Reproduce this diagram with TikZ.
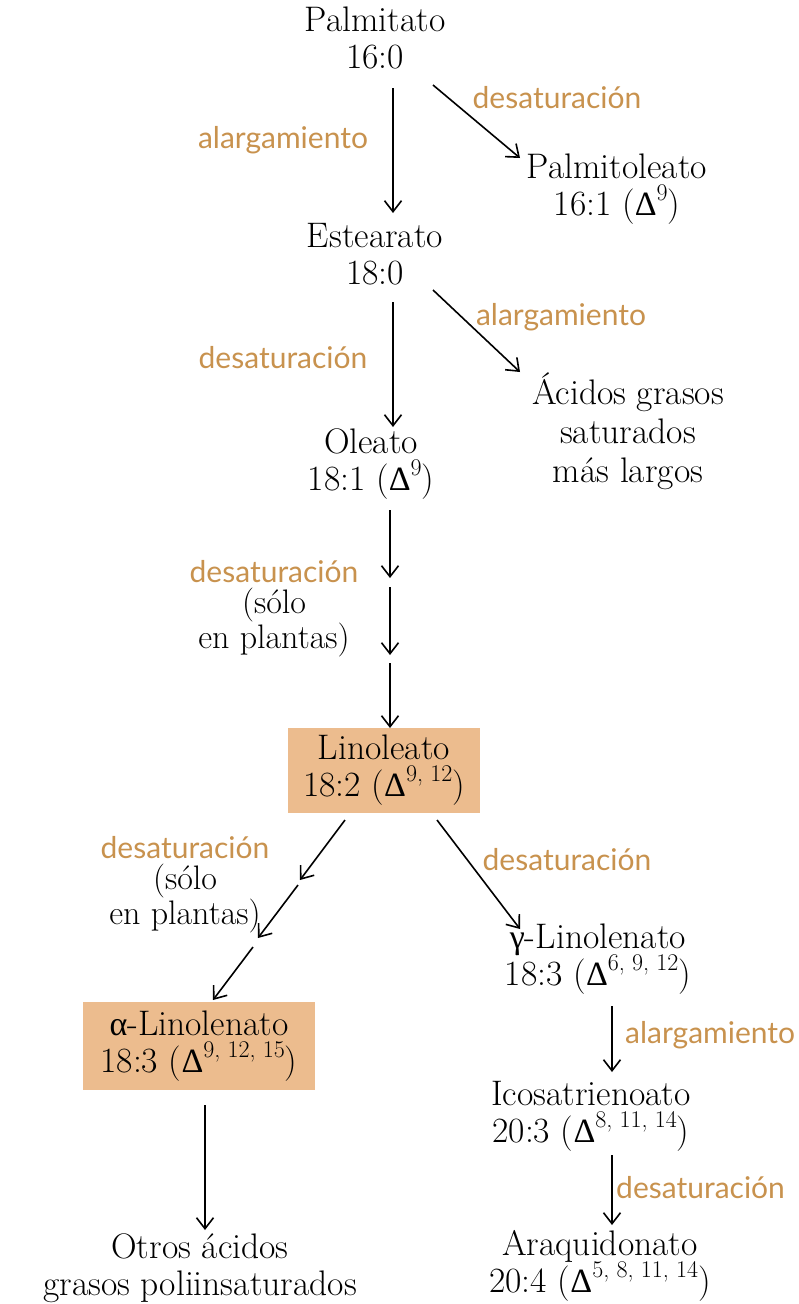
\documentclass[tikz,border=0pt]{standalone}
\usepackage{fontspec}
\newfontfamily\labfont{Lato}
\newfontfamily\grk{Liberation Serif}
\usetikzlibrary{arrows.meta,calc}
\definecolor{labor}{RGB}{200,146,78}
\definecolor{boxfill}{RGB}{236,188,142}
\newcommand\myD{{\grk\fontsize{34}{34}\selectfont Δ}}
\newcommand\mysup[1]{\raisebox{0.42em}[0pt][0pt]{\fontsize{24}{24}\selectfont #1}}
\newcommand\myal{{\grk\fontsize{34}{34}\selectfont α}}
\newcommand\mygam{{\grk\fontsize{34}{34}\selectfont γ}}
\begin{document}
\begin{tikzpicture}[x=1pt,y=-1pt,
  txt/.style={font=\fontsize{35.5}{37}\selectfont, align=center, inner sep=0pt},
  note/.style={font=\fontsize{34}{31}\selectfont, align=center, inner sep=0pt},
  lab/.style={font=\labfont\fontsize{30}{30}\selectfont, text=labor, inner sep=0pt},
  hl/.style={txt, fill=boxfill},
  arr/.style={line width=1.6pt, -{Straight Barb[length=11pt,width=17pt]}}]
\useasboundingbox (0,0) rectangle (798,1304);

% compounds
\node[txt] (palm)   at (375,38)   {Palmitato\\16:0};
\node[txt] (palmo)  at (617,189)  {Palmitoleato\\16:1 (\myD\mysup{9})};
\node[txt] (estear) at (375,254)  {Estearato\\18:0};
\node[txt, font=\fontsize{35.5}{39}\selectfont] (acidos) at (628,431) {Ácidos grasos\\saturados\\más largos};
\node[txt] (oleato) at (371,464)  {Oleato\\18:1 (\myD\mysup{9})};
\node[hl, minimum width=192pt, minimum height=85pt] (lino) at (384,770) {Linoleato\\18:2 (\myD\mysup{9, 12})};
\node[hl, minimum width=232pt, minimum height=88pt] (alin) at (199,1046) {\myal-Linolenato\\18:3 (\myD\mysup{9, 12, 15})};
\node[txt] (otros)  at (200,1268) {Otros ácidos\\grasos poliinsaturados};
\node[txt] (glin)   at (598,959)  {\mygam-Linolenato\\18:3 (\myD\mysup{6, 9, 12})};
\node[txt] (icosa)  at (591,1116) {Icosatrienoato\\20:3 (\myD\mysup{8, 11, 14})};
\node[txt] (araq)   at (600,1266) {Araquidonato\\20:4 (\myD\mysup{5, 8, 11, 14})};

% labels
\node[lab] (l1) at (283,140) {alargamiento};
\node[lab] (l2) at (557,98)  {desaturación};
\node[lab] (l3) at (283,358) {desaturación};
\node[lab] (l4) at (561,317) {alargamiento};
\node[note] (l5) at (274,609) {{\labfont\fontsize{30}{30}\selectfont\color{labor}desaturación}\\(sólo\\en plantas)};
\node[note] (l6) at (185,885) {{\labfont\fontsize{30}{30}\selectfont\color{labor}desaturación}\\(sólo\\en plantas)};
\node[lab] (l7) at (567,860) {desaturación};
\node[lab, anchor=west] (l8) at (625,1035) {alargamiento};
\node[lab, anchor=west] (l9) at (616,1188) {desaturación};

% connectors
\draw[arr] ($(palm)+(18,50)$) -- ($(estear)+(18,-41)$);
\draw[arr] ($(palm)+(58,47)$) -- ($(palmo)+(-97,-31)$);
\draw[arr] ($(estear)+(18,48)$) -- ($(oleato)+(22,-37)$);
\draw[arr] ($(estear)+(58,36)$) -- ($(acidos)+(-108,-59)$);

\coordinate (o1) at ($(oleato)+(19,114)$);
\coordinate (o2) at ($(oleato)+(19,123)$);
\coordinate (o3) at ($(lino)+(6,-115)$);
\coordinate (o4) at ($(lino)+(6,-107)$);
\draw[arr] ($(oleato)+(19,46)$) -- (o1);
\draw[arr] (o2) -- (o3);
\draw[arr] (o4) -- ($(lino)+(6,-42)$);

\coordinate (a1) at (300,880);
\coordinate (a2) at (298,885);
\coordinate (a3) at (258,938);
\coordinate (a4) at (253,947);
\draw[arr] ($(lino)+(-39,50)$) -- (a1);
\draw[arr] (a2) -- (a3);
\draw[arr] (a4) -- ($(alin)+(14,-46)$);

\draw[arr] ($(lino)+(53,50)$) -- ($(glin)+(-78,-30)$);
\draw[arr] ($(glin)+(14,47)$) -- ($(icosa)+(21,-44)$);
\draw[arr] ($(icosa)+(21,39)$) -- ($(araq)+(12,-41)$);
\draw[arr] ($(alin)+(6,59)$) -- ($(otros)+(5,-38)$);
\end{tikzpicture}
\end{document}
